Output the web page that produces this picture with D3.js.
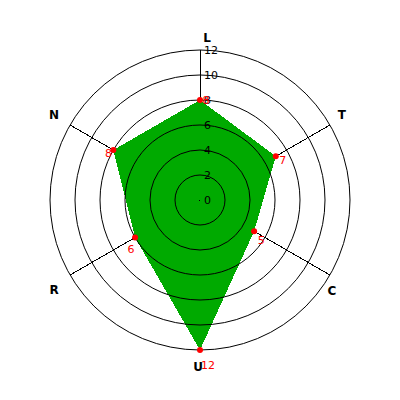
<!DOCTYPE html>
<html><head><meta charset="utf-8">
<script src="https://cdn.jsdelivr.net/npm/d3@7"></script>
<style>
html,body{margin:0;padding:0;background:#fff;}
svg{display:block;}
</style></head>
<body>
<svg id="chart" width="400" height="400"></svg>
<script>
const categories = ["L", "T", "C", "U", "R", "N"];
const values = [8, 7, 5, 12, 6, 8];
const ringTicks = [0, 2, 4, 6, 8, 10, 12];
const valueMax = 12;

const W = 400, H = 400, cx = 200, cy = 200, R = 150;
const svg = d3.select("#chart");
const g = svg.append("g").attr("transform", `translate(${cx},${cy})`);

const r = d3.scaleLinear().domain([0, valueMax]).range([0, R]);
const angle = d3.scalePoint().domain(categories).range([0, 2 * Math.PI * (categories.length - 1) / categories.length]);
const px = (c, v) => r(v) * Math.sin(angle(c));
const py = (c, v) => -r(v) * Math.cos(angle(c));

// axes (under polygon)
g.selectAll("line.axis").data(categories).join("line")
  .attr("class", "axis")
  .attr("x1", 0).attr("y1", 0)
  .attr("x2", d => px(d, valueMax)).attr("y2", d => py(d, valueMax))
  .attr("stroke", "#000").attr("stroke-width", 1)
  .attr("shape-rendering", "crispEdges");

// polygon
const pts = categories.map((c, i) => [px(c, values[i]), py(c, values[i])]);
g.append("path")
  .attr("d", d3.line().curve(d3.curveLinearClosed)(pts))
  .attr("fill", "#00aa00").attr("stroke", "none")
  .attr("shape-rendering", "crispEdges");

// rings (over polygon)
g.selectAll("circle.ring").data(ringTicks.filter(t => t > 0)).join("circle")
  .attr("class", "ring")
  .attr("r", d => r(d))
  .attr("fill", "none").attr("stroke", "#000").attr("stroke-width", 1);

// center dot
g.append("rect").attr("x", -1).attr("y", 0).attr("width", 1).attr("height", 1).attr("fill", "#000");

// ring labels
g.selectAll("text.tick").data(ringTicks).join("text")
  .attr("class", "tick")
  .attr("x", 4).attr("y", d => -r(d))
  .attr("dy", "0.36em")
  .attr("font-family", "DejaVu Sans, sans-serif").attr("font-size", 11)
  .attr("fill", "#000")
  .text(d => d);

// axis labels
const labelDx = [7, -1, -11, -2, -3, -3];
const labelDy = [3, -2.5, 8.5, 2, 7.5, -2.5];
g.selectAll("text.cat").data(categories).join("text")
  .attr("class", "cat")
  .attr("x", (d, i) => px(d, valueMax + 1.2) + labelDx[i])
  .attr("y", (d, i) => py(d, valueMax + 1.2) + labelDy[i])
  .attr("text-anchor", "middle").attr("dy", "0.36em")
  .attr("font-family", "DejaVu Sans, sans-serif").attr("font-size", 12).attr("font-weight", "bold")
  .attr("fill", "#000")
  .text(d => d);

// markers
g.selectAll("circle.pt").data(categories).join("circle")
  .attr("class", "pt")
  .attr("cx", (d, i) => px(d, values[i]))
  .attr("cy", (d, i) => py(d, values[i]))
  .attr("r", 3).attr("fill", "#ff0000");

// value labels
const vDx = [6, 7, 7, 8, -4, -5];
const vDy = [0, 4, 9, 15, 12, 3];
g.selectAll("text.val").data(categories).join("text")
  .attr("class", "val")
  .attr("x", (d, i) => px(d, values[i]) + vDx[i])
  .attr("y", (d, i) => py(d, values[i]) + vDy[i])
  .attr("text-anchor", "middle").attr("dy", "0.36em")
  .attr("font-family", "DejaVu Sans, sans-serif").attr("font-size", 11)
  .attr("fill", "#ff0000")
  .text((d, i) => values[i]);
</script>
</body></html>
